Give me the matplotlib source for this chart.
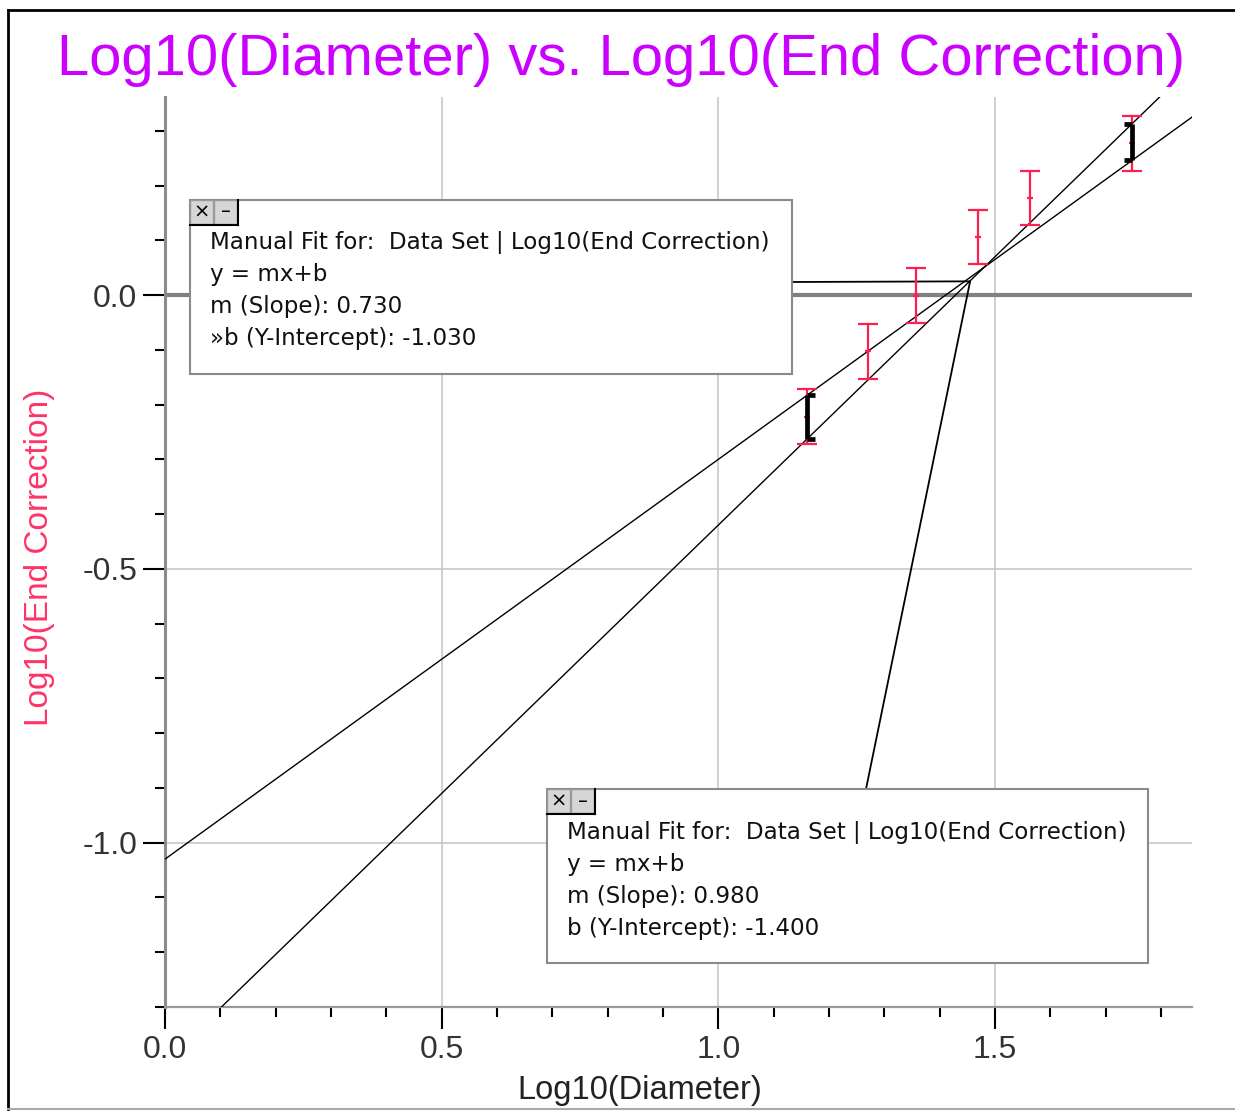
import matplotlib
matplotlib.use('Agg')
import matplotlib.pyplot as plt
from matplotlib.patches import Rectangle
from matplotlib.lines import Line2D
from matplotlib.ticker import MultipleLocator, FixedLocator
import numpy as np

# ---------------- data ----------------
log_diameter = [1.160, 1.271, 1.357, 1.469, 1.563, 1.748]
log_end_corr = [-0.222, -0.103, -0.001, 0.106, 0.177, 0.277]
y_err = [0.05, 0.05, 0.05, 0.05, 0.05, 0.05]
fit_slopes = [0.730, 0.980]
fit_intercepts = [-1.030, -1.400]
fit_b_prefix = ['»', '']
x_ticks = [0.0, 0.5, 1.0, 1.5]
y_ticks = [-1.0, -0.5, 0.0]
leader_target = (1.455, 0.025)

title = 'Log10(Diameter) vs. Log10(End Correction)'
x_label = 'Log10(Diameter)'
y_label = 'Log10(End Correction)'

W, H = 1235, 1111
RED = '#ff1f4f'
FONT = 'Liberation Sans'


def fx(px):
    return px / W


def fy(py):
    return 1 - py / H


fig = plt.figure(figsize=(W / 100, H / 100), dpi=100)
fig.patch.set_facecolor('white')
ax = fig.add_axes([fx(165), fy(1007), (1192 - 165) / W, (1007 - 97) / H])
ax.set_xlim(0, 1.856)
ax.set_ylim(-1.3, 0.3616)

# spines
for s in ['top', 'right']:
    ax.spines[s].set_visible(False)
ax.spines['left'].set_color('#8c8c8c')
ax.spines['left'].set_linewidth(2.2)
ax.spines['bottom'].set_color('#9a9a9a')
ax.spines['bottom'].set_linewidth(1.6)

ax.xaxis.set_major_locator(FixedLocator(x_ticks))
ax.yaxis.set_major_locator(FixedLocator(y_ticks))
ax.xaxis.set_minor_locator(MultipleLocator(0.1))
ax.yaxis.set_minor_locator(MultipleLocator(0.1))
ax.set_xticklabels([f'{v:.1f}' for v in x_ticks])
ax.set_yticklabels([f'{v:.1f}' for v in y_ticks])
ax.tick_params(which='major', direction='out', length=16, width=1.5, color='black',
               labelsize=23, labelcolor='#333333', pad=4)
ax.tick_params(which='minor', direction='out', length=7.5, width=1.5, color='black')
for lab in ax.get_xticklabels() + ax.get_yticklabels():
    lab.set_family(FONT)

# grid
for v in x_ticks[1:]:
    ax.axvline(v, color='#c8c8c8', lw=1.2, zorder=0)
for v in y_ticks[:-1]:
    ax.axhline(v, color='#c8c8c8', lw=1.2, zorder=0)
ax.axhline(0.0, color='#808080', lw=3.0, zorder=1)

# fit lines
xs = np.array(ax.get_xlim())
for m, b in zip(fit_slopes, fit_intercepts):
    ax.plot(xs, m * xs + b, color='black', lw=1.0, zorder=3)

# data error bars
ax.errorbar(log_diameter, log_end_corr, yerr=y_err, fmt='none', ecolor=RED,
            elinewidth=1.6, capsize=7.2, capthick=1.6, zorder=4)
ax.plot(log_diameter, log_end_corr, ls='none', marker='_', ms=5, mew=1.6,
        color=RED, zorder=4)

# black bars marking the gap between the two manual fits at first/last point
for xi, d in [(log_diameter[0], 1), (log_diameter[-1], -1)]:
    ya = fit_slopes[0] * xi + fit_intercepts[0]
    yb = fit_slopes[1] * xi + fit_intercepts[1]
    ax.plot([xi, xi], [ya, yb], color='black', lw=3.4, zorder=5, solid_capstyle='butt')
    for yy in (ya, yb):
        ax.plot([xi, xi + d * 0.014], [yy, yy], color='black', lw=3.4, zorder=5,
                solid_capstyle='butt')

# leader lines
ax.annotate('', xy=leader_target, xycoords='data', xytext=(fx(792), fy(282)),
            textcoords='figure fraction',
            arrowprops=dict(arrowstyle='-', color='black', lw=1.3, shrinkA=0, shrinkB=0))
ax.annotate('', xy=leader_target, xycoords='data', xytext=(fx(866), fy(789)),
            textcoords='figure fraction',
            arrowprops=dict(arrowstyle='-', color='black', lw=1.3, shrinkA=0, shrinkB=0))


def draw_box(x0, y0, x1, y1, m, b, prefix):
    fig.add_artist(Rectangle((fx(x0), fy(y1)), (x1 - x0) / W, (y1 - y0) / H,
                             transform=fig.transFigure, facecolor='white',
                             edgecolor='#8a8a8a', lw=1.5, zorder=10))
    # button tab
    for i, sym in enumerate(['×', '–']):
        bx0 = x0 + i * 24
        fig.add_artist(Rectangle((fx(bx0), fy(y0 + 24)), 23 / W, 24 / H,
                                 transform=fig.transFigure, facecolor='#d6d6d6',
                                 edgecolor='#9a9a9a', lw=1.0, zorder=11))
        fig.text(fx(bx0 + 11.5), fy(y0 + 12), sym, ha='center', va='center',
                 fontsize=14, color='black', family='DejaVu Sans', zorder=12)
    fig.add_artist(Line2D([fx(x0 + 48), fx(x0 + 48)], [fy(y0), fy(y0 + 25)],
                          transform=fig.transFigure, color='black', lw=1.5, zorder=12))
    fig.add_artist(Line2D([fx(x0), fx(x0 + 48)], [fy(y0 + 24.5), fy(y0 + 24.5)],
                          transform=fig.transFigure, color='black', lw=1.5, zorder=12))
    lines = ['Manual Fit for:  Data Set | Log10(End Correction)',
             'y = mx+b',
             f'm (Slope): {m:.3f}',
             f'{prefix}b (Y-Intercept): {b:.3f}']
    for k, t in enumerate(lines):
        fig.text(fx(x0 + 20), fy(y0 + 43 + 32 * k), t, ha='left', va='center',
                 fontsize=16.6, color='#111111', family='DejaVu Sans', zorder=12)


draw_box(190, 200, 792, 374, fit_slopes[0], fit_intercepts[0], fit_b_prefix[0])
draw_box(547, 789, 1148, 963, fit_slopes[1], fit_intercepts[1], fit_b_prefix[1])

# titles / labels
fig.text(fx(621), fy(60), title, ha='center', va='center', fontsize=41.8,
         color='#cc00ff', family=FONT)
fig.text(fx(40), fy(557), y_label, ha='center', va='center', rotation=90,
         fontsize=24, color='#ff3366', family=FONT)
fig.text(fx(640), fy(1090), x_label, ha='center', va='center', fontsize=23.5,
         color='#222222', family=FONT)

# outer frame
fig.add_artist(Line2D([fx(8), fx(1235)], [fy(10), fy(10)], transform=fig.transFigure,
                      color='black', lw=2))
fig.add_artist(Line2D([fx(8), fx(8)], [fy(10), fy(1109)], transform=fig.transFigure,
                      color='black', lw=2))
fig.add_artist(Line2D([fx(8), fx(1235)], [fy(1109), fy(1109)], transform=fig.transFigure,
                      color='#aaaaaa', lw=1.5))

fig.savefig('out.png', dpi=100)
